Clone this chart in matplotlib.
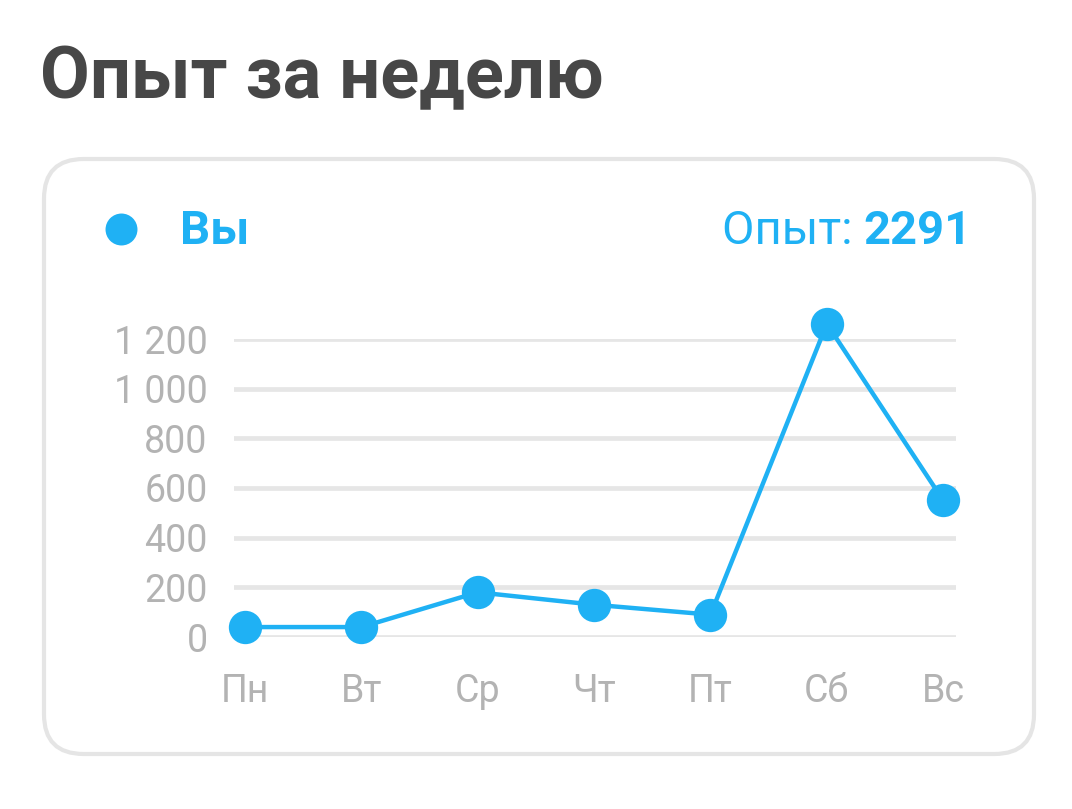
import matplotlib
matplotlib.use("Agg")
import matplotlib.pyplot as plt
from matplotlib.patches import FancyBboxPatch
from matplotlib.ticker import FuncFormatter

days = ["Пн", "Вт", "Ср", "Чт", "Пт", "Сб", "Вс"]
xp = [40, 40, 180, 130, 90, 1261, 550]
yticks = [0, 200, 400, 600, 800, 1000, 1200]
title = "Опыт за неделю"
series_name = "Вы"
total_label = "Опыт: "
total_value = "2291"

BLUE = "#1fb1f4"
GREY_TXT = "#b3b3b3"
GRID = "#e6e6e6"
W, H = 1072, 809

plt.rcParams['font.family'] = ['Roboto', 'DejaVu Sans']
fig = plt.figure(figsize=(W / 100, H / 100), dpi=100)
fig.patch.set_facecolor("white")

def fx(px):
    return px / W

def fy(py):
    return 1 - py / H

# Card
card = FancyBboxPatch((fx(44), fy(754)), fx(1034) - fx(44), fy(159) - fy(754),
                      boxstyle="round,pad=0,rounding_size=0.037",
                      transform=fig.transFigure, facecolor="white",
                      edgecolor="#e5e5e5", linewidth=3, mutation_aspect=W / H,
                      zorder=-10)
fig.patches.append(card)

# Title
fig.text(fx(40), fy(98), title, fontsize=52, fontweight="bold", color="#474747",
         ha="left", va="baseline")

# Legend
fig.text(fx(180), fy(244), series_name, fontsize=34, fontweight="bold", color=BLUE,
         ha="left", va="baseline")
leg_ax = fig.add_axes([0, 0, 1, 1], zorder=-1)
leg_ax.set_xlim(0, W)
leg_ax.set_ylim(H, 0)
leg_ax.axis("off")
leg_ax.plot([121], [229], "o", color=BLUE, markersize=23, markeredgewidth=0)

tv = fig.text(fx(972), fy(244), total_value, fontsize=34, fontweight="bold",
              color=BLUE, ha="right", va="baseline")
fig.canvas.draw()
bb = tv.get_window_extent(renderer=fig.canvas.get_renderer())
fig.text(bb.x0 / W, fy(244), total_label, fontsize=34, color=BLUE,
         ha="right", va="baseline")

# Chart axes
ax = fig.add_axes([fx(234), fy(637), fx(956) - fx(234), fy(339) - fy(637)])
ax.set_xlim(-0.095, 6.11)
ax.set_ylim(0, 1200)
for t in yticks:
    ax.axhline(t, color=GRID, linewidth=3.4, zorder=1)
x = list(range(len(days)))
ax.plot(x, xp, color=BLUE, linewidth=3.2, marker="o", markersize=24,
        markeredgewidth=0, clip_on=False, zorder=3)
ax.set_yticks(yticks)
ax.yaxis.set_major_formatter(FuncFormatter(lambda v, p: f"{int(v):,}".replace(",", " ")))
ax.set_xticks(x)
ax.set_xticklabels(days)
ax.tick_params(axis="y", length=0, pad=19, labelsize=27, labelcolor=GREY_TXT)
ax.tick_params(axis="x", length=0, pad=26, labelsize=27, labelcolor=GREY_TXT)
for s in ax.spines.values():
    s.set_visible(False)
ax.set_facecolor("none")

fig.savefig("out.png", dpi=100, facecolor="white")
